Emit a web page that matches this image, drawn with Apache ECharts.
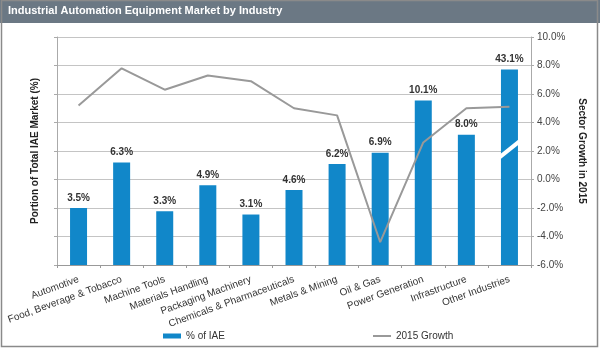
<!DOCTYPE html>
<html>
<head>
<meta charset="utf-8">
<script src="https://cdn.jsdelivr.net/npm/echarts@6/dist/echarts.min.js"></script>
<style>
  html, body { margin: 0; padding: 0; background: #fff; }
  #main { width: 600px; height: 350px; }
</style>
</head>
<body>
<div id="main"></div>
<script>
// industries on the x axis
const industries = [
  'Automotive', 'Food, Beverage & Tobacco', 'Machine Tools', 'Materials Handling',
  'Packaging Machinery', 'Chemicals & Pharmaceuticals', 'Metals & Mining', 'Oil & Gas',
  'Power Generation', 'Infrastructure', 'Other Industries'
]
// share of IAE market (%)
const pctIAE = [3.5, 6.3, 3.3, 4.9, 3.1, 4.6, 6.2, 6.9, 10.1, 8.0, 43.1]
// 2015 sector growth (%)
const growth2015 = [5.2, 7.8, 6.3, 7.3, 6.9, 5.0, 4.5, -4.4, 2.6, 5.0, 5.1]
// right axis ticks
const growthMin = -6
const growthMax = 10
const growthStep = 2
// bars above this get drawn broken
const breakAt = 12

let chartDom = document.getElementById('main')
let myChart = echarts.init(chartDom)
const font = 'Liberation Sans, Arial, sans-serif'

let option = {
  animation: false,
  textStyle: {fontFamily: font},
  grid: {left: 57, right: 69, top: 37, bottom: 85},
  // two legends so the line icon can stay thin
  legend: [
    {
      left: 158,
      top: 326,
      itemWidth: 18,
      itemHeight: 5,
      icon: 'rect',
      textStyle: {fontSize: 10, color: '#333', fontFamily: font},
      data: ['% of IAE']
    },
    {
      left: 368,
      top: 326,
      itemWidth: 18,
      itemHeight: 2,
      icon: 'rect',
      textStyle: {fontSize: 10, color: '#333', fontFamily: font},
      data: ['2015 Growth']
    }
  ],
  xAxis: [{
    type: 'category',
    data: industries,
    axisLine: {lineStyle: {color: '#999'}},
    axisTick: {show: true, length: 3, lineStyle: {color: '#999'}},
    axisLabel: {rotate: 20, fontSize: 10, color: '#333', margin: 14, interval: 0}
  }],
  yAxis: [
    {
      type: 'value',
      min: 0,
      max: 14,
      interval: 1.75,
      name: 'Portion of Total IAE Market (%)',
      nameLocation: 'middle',
      nameGap: 17,
      nameTextStyle: {fontSize: 10, fontWeight: 'bold', color: '#222'},
      axisLine: {show: true, lineStyle: {color: '#aaa'}},
      axisTick: {show: true, length: 3, lineStyle: {color: '#aaa'}},
      axisLabel: {show: false},
      splitLine: {lineStyle: {color: '#c4c4c4', width: 1}}
    },
    {
      type: 'value',
      position: 'right',
      min: growthMin,
      max: growthMax,
      interval: growthStep,
      name: 'Sector Growth in 2015',
      nameLocation: 'middle',
      nameRotate: -90,
      nameGap: 40,
      nameTextStyle: {fontSize: 10, fontWeight: 'bold', color: '#222'},
      axisLine: {show: true, lineStyle: {color: '#aaa'}},
      axisTick: {show: true, length: 3, lineStyle: {color: '#aaa'}},
      axisLabel: {
        fontSize: 10,
        color: '#444',
        margin: 6,
        formatter: function (value) {
          return value.toFixed(1) + '%'
        }
      },
      splitLine: {show: false}
    }
  ],
  series: [
    {
      name: '% of IAE',
      type: 'bar',
      yAxisIndex: 0,
      barWidth: 17,
      itemStyle: {color: '#1187c9'},
      label: {
        show: true,
        position: 'top',
        fontSize: 10,
        fontWeight: 'bold',
        color: '#333',
        formatter: function (p) {
          return pctIAE[p.dataIndex].toFixed(1) + '%'
        }
      },
      data: pctIAE.map(v => Math.min(v, breakAt)),
      z: 2
    },
    {
      name: '2015 Growth',
      type: 'line',
      yAxisIndex: 1,
      symbol: 'none',
      lineStyle: {color: '#999', width: 2},
      itemStyle: {color: '#999'},
      data: growth2015,
      z: 3
    }
  ],
  graphic: [
    {
      type: 'rect',
      shape: {x: 0, y: 0, width: 600, height: 23},
      style: {fill: '#6b7884'},
      silent: true
    },
    {
      type: 'text',
      left: 8,
      top: 5,
      style: {text: 'Industrial Automation Equipment Market by Industry', fill: '#fff', font: 'bold 11px ' + font},
      silent: true
    },
    {
      type: 'rect',
      shape: {x: 1.5, y: 0.5, width: 596, height: 346},
      style: {fill: 'none', stroke: '#8a8a8a', lineWidth: 1.5},
      silent: true
    }
  ]
}
myChart.setOption(option, true)

// white slash across the broken bar
let breakGraphics = []
pctIAE.forEach(function (v, i) {
  if (v > breakAt) {
    let p = myChart.convertToPixel({xAxisIndex: 0, yAxisIndex: 0}, [i, 7.1])
    breakGraphics.push({
      type: 'line',
      shape: {x1: p[0] - 10, y1: p[1] + 8, x2: p[0] + 10, y2: p[1] - 8},
      style: {stroke: '#fff', lineWidth: 4},
      z: 10,
      silent: true
    })
  }
})
myChart.setOption({graphic: option.graphic.concat(breakGraphics)})
</script>
</body>
</html>
